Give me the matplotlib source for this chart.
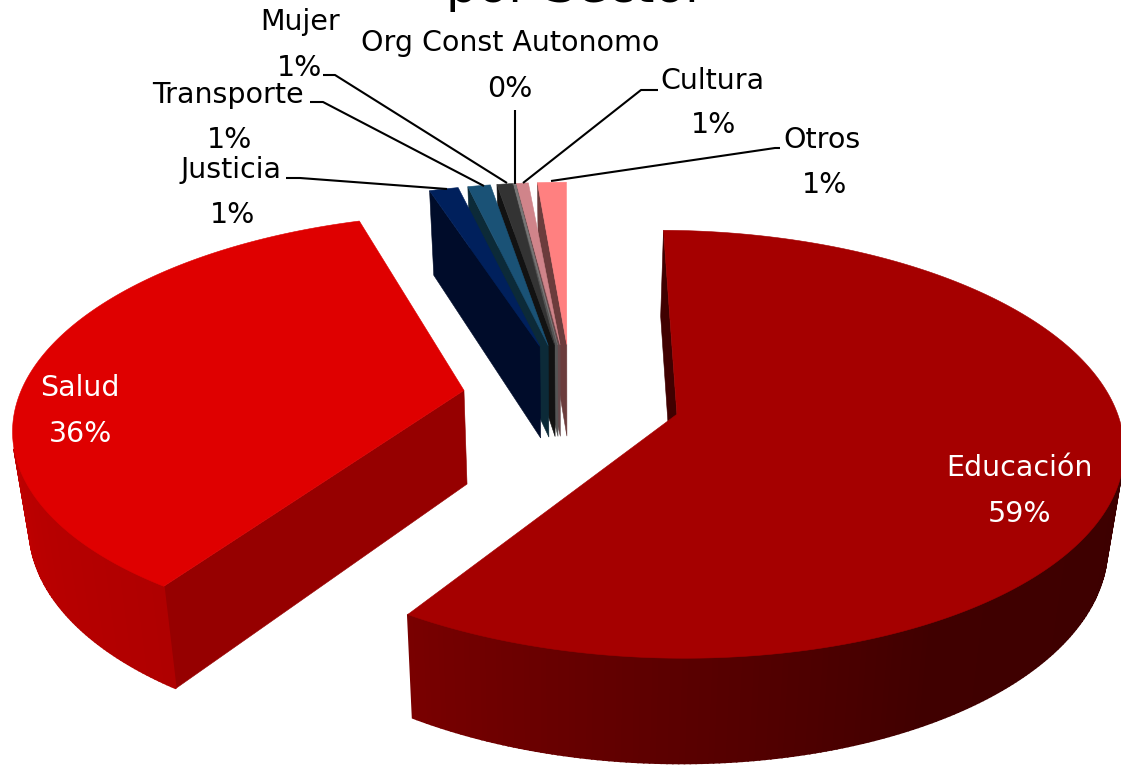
import numpy as np
import matplotlib
matplotlib.use("Agg")
import matplotlib.pyplot as plt
from matplotlib.patches import Polygon
from matplotlib.colors import to_rgb

# ---- data ----
sectors = ["Educación", "Salud", "Justicia", "Transporte", "Mujer", "Org Const Autonomo", "Cultura", "Otros"]
shares = [59.0, 36.0, 1.3, 1.05, 0.72, 0.1, 0.57, 1.26]
title = "por Sector"

# ---- style ----
top_colors = ["#A50000", "#DF0000", "#00205C", "#1A5276", "#333333", "#777777", "#D0848A", "#FF8080"]
cut_colors = ["#400000", "#960000", "#000C2A", "#0C2A38", "#121212", "#555555", "#66484A", "#6B3C3C"]
wall_stops = {
    "Educación": ([90, 150, 180, 214], ["#3C0000", "#400000", "#5A0000", "#7A0000"]),
    "Salud": ([212, 250, 275, 345], ["#AE0000", "#BC0000", "#D00000", "#D00000"]),
}
explode = [0.235, 0.235, 0.27, 0.27, 0.27, 0.27, 0.27, 0.27]
persp = [0.125, 0.16, 0.10, 0.10, 0.10, 0.10, 0.10, 0.10]      # perspective per wedge
nudge = [(1, -3), (-1, -9), (2, -7), (2, -7), (2, -7), (2, -7), (2, -7), (2, -7)]
rim_scale = [(1, 1), (1, 1), (.93, .90), (.93, .90), (.93, .90), (.93, .90), (.93, .90), (.93, .90)]
angle_shift = [(0, 0), (0.8, -0.6), (-0.3, -0.45), (-0.15, -0.4), (-0.3, -0.45), (-0.8, -0.8), (-1.0, -1.2), (-0.75, -0.8)]
apex_shift = [(7, -3), (0, 0), (0, 0), (0, 0), (0, 0), (0, 0), (0, 0), (0, 0)]
start_deg = 0.7
X0, Y0 = 568, 406
A, B, K, H, SHRINK = 445, 207, 0.10, 94, 0.03

label_pos = {
    "Educación": ((1019, 468), (1020, 514), "white"),
    "Salud": ((80, 388), (81, 434), "white"),
    "Justicia": ((231, 170), (233, 215), "black"),
    "Transporte": ((228, 95), (230, 140), "black"),
    "Mujer": ((300, 22), (300, 68), "black"),
    "Org Const Autonomo": ((510, 43), (510, 89), "black"),
    "Cultura": ((712, 81), (714, 125), "black"),
    "Otros": ((822, 140), (825, 185), "black"),
}
leaders = [
    [(286, 178), (300, 178), (447, 189)],
    [(310, 102), (323, 102), (484, 186)],
    [(323, 75), (335, 75), (507, 183)],
    [(515, 110), (515, 184)],
    [(523, 183), (641, 90), (658, 90)],
    [(551, 181), (775, 148), (780, 148)],
]


def area(pts):
    p = np.array(pts, float)
    q = np.roll(p, -1, axis=0)
    return 0.5 * np.sum(p[:, 0] * q[:, 1] - q[:, 0] * p[:, 1])


fig = plt.figure(figsize=(11.21, 7.65), dpi=100)
ax = fig.add_axes([0, 0, 1, 1])
ax.set_xlim(0, 1121)
ax.set_ylim(765, 0)
ax.axis("off")

total = sum(shares)
edges = start_deg + np.concatenate([[0], np.cumsum(shares)]) * 360 / total


def poly(pts, color, z, lw=0.4):
    ax.add_patch(Polygon(pts, closed=True, facecolor=color, edgecolor=color, lw=lw, zorder=z))


order = [7, 6, 5, 4, 3, 2, 1, 0]
for rank, i in enumerate(order):
    t0 = np.radians(edges[i] + angle_shift[i][0])
    t1 = np.radians(edges[i + 1] + angle_shift[i][1])
    nat = np.radians((edges[i] + edges[i + 1]) / 2)
    cu, cv = explode[i] * np.sin(nat), explode[i] * np.cos(nat)
    kw, (ndx, ndy) = persp[i], nudge[i]
    su, sv = rim_scale[i]

    def project(u, v, z):
        w = 1 + kw * v
        wd = 1 + K * v
        return (X0 + ndx + A * u / w * (1 - SHRINK * z), Y0 + ndy - B * v / w + H * z / wd)

    ts = np.linspace(t0, t1, max(6, int(np.degrees(t1 - t0) * 1.5)))
    rim = lambda t, z: project(cu + su * np.sin(t), cv + sv * np.cos(t), z)

    def apex(z):
        x, y = project(cu, cv, z)
        return (x + apex_shift[i][0], y + apex_shift[i][1])

    base = rank * 10
    # cut faces
    q0 = [apex(0), rim(t0, 0), rim(t0, 1), apex(1)]
    if area(q0) < 0:
        poly(q0, cut_colors[i], base + 1)
    q1 = [apex(0), rim(t1, 0), rim(t1, 1), apex(1)]
    if area(q1) > 0:
        poly(q1, cut_colors[i], base + 1)
    # outer wall
    for a, b in zip(ts[:-1], ts[1:]):
        q = [rim(a, 0), rim(b, 0), rim(b, 1), rim(a, 1)]
        if area(q) < 0:
            deg = np.degrees((a + b) / 2)
            if sectors[i] in wall_stops:
                st, cs = wall_stops[sectors[i]]
                rgb = np.array([to_rgb(c) for c in cs])
                col = tuple(np.interp(deg, st, rgb[:, k]) for k in range(3))
            else:
                col = cut_colors[i]
            poly(q, col, base + 2, lw=1.2)
    # top
    top = [apex(0)] + [rim(t, 0) for t in ts]
    poly(top, top_colors[i], base + 3)

for pts in leaders:
    xs, ys = zip(*pts)
    ax.plot(xs, ys, color="black", lw=1.5, zorder=200, solid_capstyle="butt")

FS = 20.5
for name, val in zip(sectors, shares):
    (p1, p2, col) = label_pos[name]
    ax.text(*p1, name, ha="center", va="center", fontsize=FS, color=col, zorder=300)
    ax.text(*p2, f"{val:.0f}%", ha="center", va="center", fontsize=FS, color=col, zorder=300)

ax.text(576, 2, title, ha="center", va="baseline", fontsize=36, color="black", zorder=300, clip_on=False)
fig.savefig("out.png", dpi=100)
